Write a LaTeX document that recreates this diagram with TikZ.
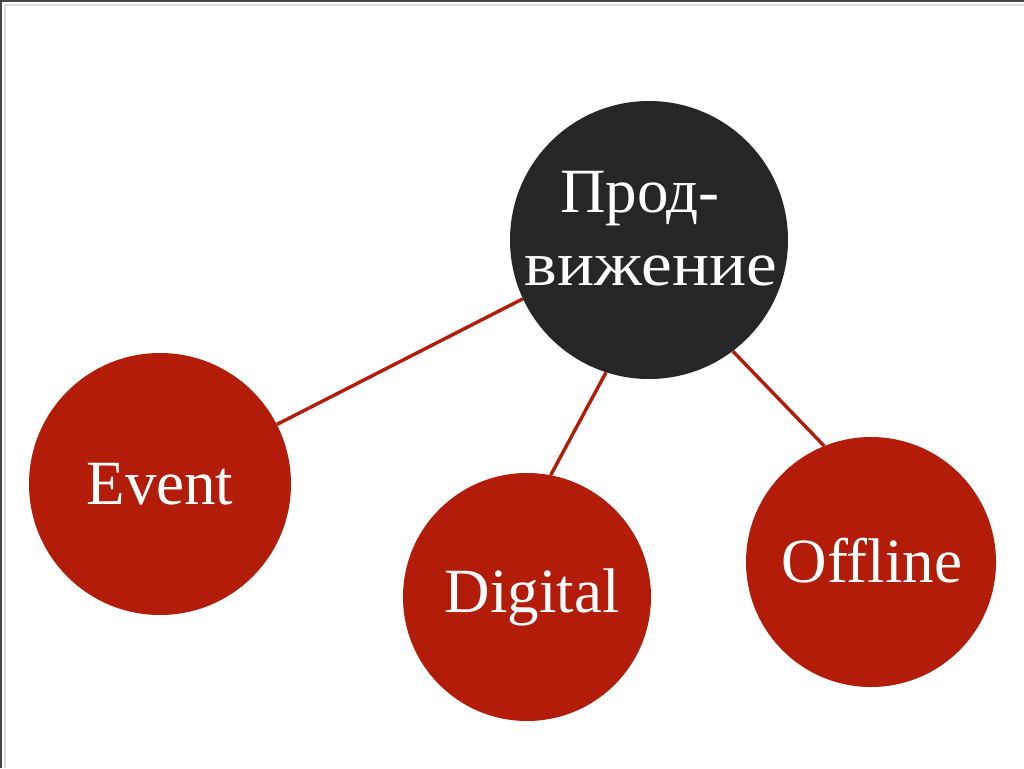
\documentclass[tikz,border=0pt]{standalone}
\usepackage{fontspec}
\setmainfont{Liberation Serif}
\usetikzlibrary{backgrounds}
\definecolor{dkc}{RGB}{38,38,38}
\definecolor{redc}{RGB}{178,28,8}
\definecolor{frame}{RGB}{70,70,70}
\definecolor{lframe}{RGB}{225,225,225}
\tikzset{
  bub/.style={circle, inner sep=0pt, fill=redc, draw=none},
  dark/.style={circle, inner sep=0pt, fill=dkc, draw=none},
  lbl/.style={text=white, inner sep=0pt, anchor=base, font=\fontsize{63}{73}\selectfont},
  link/.style={draw=redc, line width=3.4pt}
}
\begin{document}
\begin{tikzpicture}[x=1pt,y=-1pt]
\useasboundingbox (0,0) rectangle (1024,768);
% circles
\node[dark, minimum size=278pt] (p) at (649,240) {};
\node[bub, minimum size=262pt] (e) at (160,484) {};
\node[bub, minimum size=248pt] (d) at (527,597) {};
\node[bub, minimum size=250pt] (o) at (871,562) {};
% labels
\node[lbl] (t1) at (640,212) {Прод-};
\node[lbl, xscale=1.1] (t2) at (651,285) {вижение};
\node[lbl] (te) at (160,504) {Event};
\node[lbl] (td) at (532,612) {Digital};
\node[lbl] (to) at (872,582) {Offline};
\begin{scope}[on background layer]
\fill[white] (0,0) rectangle (1024,768);
\draw[lframe, line width=1.2pt] (5,768) -- (5,5) -- (1024,5);
\draw[frame, line width=2.5pt] (1,768) -- (1,1) -- (1024,1);
\draw[link] (p.205.3) -- (e.27);
\draw[link] (p.252) -- (d.79.6);
\draw[link] (p.307.5) -- (o.112.5);
\end{scope}
\end{tikzpicture}
\end{document}
